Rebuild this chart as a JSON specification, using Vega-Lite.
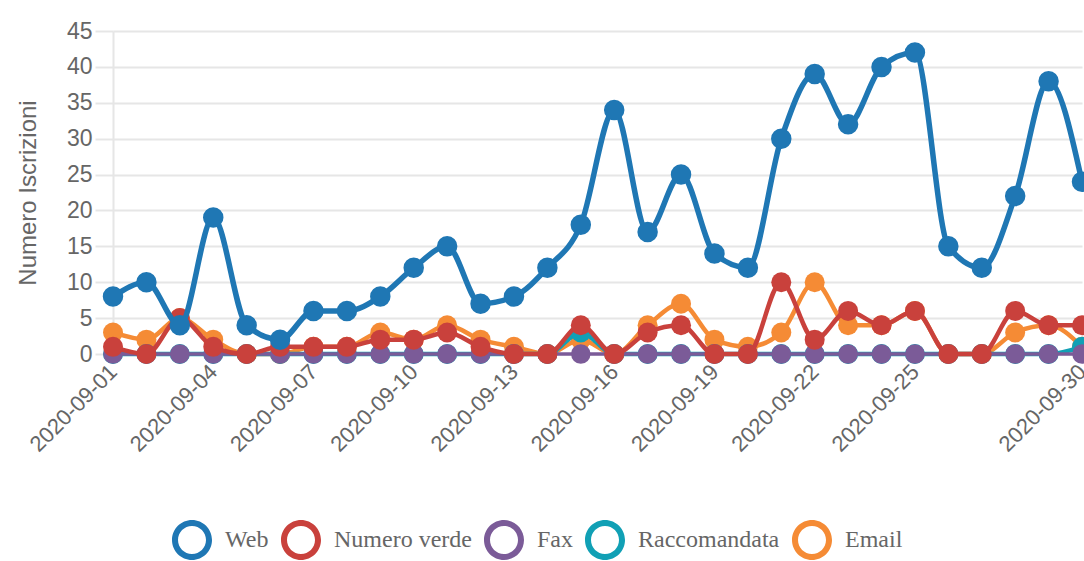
{
  "$schema": "https://vega.github.io/schema/vega-lite/v6.json",
  "width": 969,
  "height": 323,
  "autosize": {"type": "none"},
  "padding": {"left": 113, "top": 31, "right": 2, "bottom": 207},
  "background": "white",
  "config": {"view": {"stroke": null}, "font": "Liberation Sans"},
  "data": {
    "values": [
      {"giorno": "2020-09-01", "Web": 8, "Numero verde": 1, "Fax": 0, "Raccomandata": 0, "Email": 3},
      {"giorno": "2020-09-02", "Web": 10, "Numero verde": 0, "Fax": 0, "Raccomandata": 0, "Email": 2},
      {"giorno": "2020-09-03", "Web": 4, "Numero verde": 5, "Fax": 0, "Raccomandata": 0, "Email": 5},
      {"giorno": "2020-09-04", "Web": 19, "Numero verde": 1, "Fax": 0, "Raccomandata": 0, "Email": 2},
      {"giorno": "2020-09-05", "Web": 4, "Numero verde": 0, "Fax": 0, "Raccomandata": 0, "Email": 0},
      {"giorno": "2020-09-06", "Web": 2, "Numero verde": 1, "Fax": 0, "Raccomandata": 0, "Email": 0},
      {"giorno": "2020-09-07", "Web": 6, "Numero verde": 1, "Fax": 0, "Raccomandata": 0, "Email": 1},
      {"giorno": "2020-09-08", "Web": 6, "Numero verde": 1, "Fax": 0, "Raccomandata": 0, "Email": 1},
      {"giorno": "2020-09-09", "Web": 8, "Numero verde": 2, "Fax": 0, "Raccomandata": 0, "Email": 3},
      {"giorno": "2020-09-10", "Web": 12, "Numero verde": 2, "Fax": 0, "Raccomandata": 0, "Email": 2},
      {"giorno": "2020-09-11", "Web": 15, "Numero verde": 3, "Fax": 0, "Raccomandata": 0, "Email": 4},
      {"giorno": "2020-09-12", "Web": 7, "Numero verde": 1, "Fax": 0, "Raccomandata": 0, "Email": 2},
      {"giorno": "2020-09-13", "Web": 8, "Numero verde": 0, "Fax": 0, "Raccomandata": 0, "Email": 1},
      {"giorno": "2020-09-14", "Web": 12, "Numero verde": 0, "Fax": 0, "Raccomandata": 0, "Email": 0},
      {"giorno": "2020-09-15", "Web": 18, "Numero verde": 4, "Fax": 0, "Raccomandata": 3, "Email": 2},
      {"giorno": "2020-09-16", "Web": 34, "Numero verde": 0, "Fax": 0, "Raccomandata": 0, "Email": 0},
      {"giorno": "2020-09-17", "Web": 17, "Numero verde": 3, "Fax": 0, "Raccomandata": 0, "Email": 4},
      {"giorno": "2020-09-18", "Web": 25, "Numero verde": 4, "Fax": 0, "Raccomandata": 0, "Email": 7},
      {"giorno": "2020-09-19", "Web": 14, "Numero verde": 0, "Fax": 0, "Raccomandata": 0, "Email": 2},
      {"giorno": "2020-09-20", "Web": 12, "Numero verde": 0, "Fax": 0, "Raccomandata": 0, "Email": 1},
      {"giorno": "2020-09-21", "Web": 30, "Numero verde": 10, "Fax": 0, "Raccomandata": 0, "Email": 3},
      {"giorno": "2020-09-22", "Web": 39, "Numero verde": 2, "Fax": 0, "Raccomandata": 0, "Email": 10},
      {"giorno": "2020-09-23", "Web": 32, "Numero verde": 6, "Fax": 0, "Raccomandata": 0, "Email": 4},
      {"giorno": "2020-09-24", "Web": 40, "Numero verde": 4, "Fax": 0, "Raccomandata": 0, "Email": 4},
      {"giorno": "2020-09-25", "Web": 42, "Numero verde": 6, "Fax": 0, "Raccomandata": 0, "Email": 6},
      {"giorno": "2020-09-26", "Web": 15, "Numero verde": 0, "Fax": 0, "Raccomandata": 0, "Email": 0},
      {"giorno": "2020-09-27", "Web": 12, "Numero verde": 0, "Fax": 0, "Raccomandata": 0, "Email": 0},
      {"giorno": "2020-09-28", "Web": 22, "Numero verde": 6, "Fax": 0, "Raccomandata": 0, "Email": 3},
      {"giorno": "2020-09-29", "Web": 38, "Numero verde": 4, "Fax": 0, "Raccomandata": 0, "Email": 4},
      {"giorno": "2020-09-30", "Web": 24, "Numero verde": 4, "Fax": 0, "Raccomandata": 1, "Email": 1}
    ]
  },
  "transform": [
    {"fold": ["Web", "Numero verde", "Fax", "Raccomandata", "Email"], "as": ["serie", "valore"]}
  ],
  "encoding": {
    "x": {
      "field": "giorno",
      "type": "ordinal",
      "scale": {"type": "point", "padding": 0},
      "axis": {
        "title": null,
        "values": ["2020-09-01", "2020-09-04", "2020-09-07", "2020-09-10", "2020-09-13", "2020-09-16", "2020-09-19", "2020-09-22", "2020-09-25", "2020-09-30"],
        "labelAngle": -45,
        "labelAlign": "right",
        "labelBaseline": "middle",
        "labelFontSize": 22,
        "labelColor": "#666666",
        "labelFont": "Liberation Sans",
        "labelPadding": 14,
        "labelOverlap": false,
        "labelBound": false,
        "ticks": false,
        "domain": false,
        "grid": false
      }
    },
    "y": {
      "field": "valore",
      "type": "quantitative",
      "scale": {"domain": [0, 45], "nice": false},
      "axis": {
        "title": "Numero Iscrizioni",
        "values": [0, 5, 10, 15, 20, 25, 30, 35, 40, 45],
        "labelFontSize": 23,
        "labelColor": "#666666",
        "labelFont": "Liberation Sans",
        "labelPadding": 3,
        "tickSize": 18,
        "tickColor": "#e6e6e6",
        "tickWidth": 2,
        "gridColor": "#e6e6e6",
        "gridWidth": 2,
        "domainColor": "#e6e6e6",
        "domainWidth": 2,
        "titleFont": "Liberation Sans",
        "titleFontSize": 24,
        "titleFontWeight": "normal",
        "titleColor": "#666666",
        "titlePadding": 26
      }
    }
  },
  "layer": [
    {
      "transform": [{"filter": "datum.serie === 'Email'"}],
      "mark": {"type": "line", "interpolate": "monotone", "strokeWidth": 4.5},
      "encoding": {
        "stroke": {
          "field": "serie", "type": "nominal",
          "scale": {"domain": ["Web", "Numero verde", "Fax", "Raccomandata", "Email"], "range": ["#1f77b4", "#c9413c", "#7b5b98", "#11a0b5", "#f58b35"]},
          "legend": {
            "title": null,
            "orient": "none",
            "legendX": 59,
            "legendY": 489,
            "direction": "horizontal",
            "labelFont": "Liberation Serif",
            "labelFontSize": 24,
            "labelColor": "#666666",
            "symbolType": "M1,0A1,1,0,1,1,-1,0A1,1,0,1,1,1,0ZM0.7,0A0.7,0.7,0,1,0,-0.7,0A0.7,0.7,0,1,0,0.7,0Z",
            "symbolSize": 1600,
            "symbolStrokeWidth": 0,
            "symbolOpacity": 1,
            "labelOffset": 13,
            "columnPadding": 12
          }
        }
      }
    },
    {
      "transform": [{"filter": "datum.serie === 'Email'"}],
      "mark": {"type": "point", "filled": true, "size": 400, "opacity": 1, "strokeWidth": 0},
      "encoding": {
        "fill": {"field": "serie", "type": "nominal", "scale": {"domain": ["Web", "Numero verde", "Fax", "Raccomandata", "Email"], "range": ["#1f77b4", "#c9413c", "#7b5b98", "#11a0b5", "#f58b35"]}, "legend": null}
      }
    },
    {
      "transform": [{"filter": "datum.serie === 'Raccomandata'"}],
      "mark": {"type": "line", "interpolate": "monotone", "strokeWidth": 4.5},
      "encoding": {"stroke": {"field": "serie", "type": "nominal"}}
    },
    {
      "transform": [{"filter": "datum.serie === 'Raccomandata'"}],
      "mark": {"type": "point", "filled": true, "size": 400, "opacity": 1, "strokeWidth": 0},
      "encoding": {"fill": {"field": "serie", "type": "nominal", "legend": null}}
    },
    {
      "transform": [{"filter": "datum.serie === 'Fax'"}],
      "mark": {"type": "line", "interpolate": "monotone", "strokeWidth": 3.5},
      "encoding": {"stroke": {"field": "serie", "type": "nominal"}}
    },
    {
      "transform": [{"filter": "datum.serie === 'Fax'"}],
      "mark": {"type": "point", "filled": true, "size": 380, "opacity": 1, "strokeWidth": 0},
      "encoding": {"fill": {"field": "serie", "type": "nominal", "legend": null}}
    },
    {
      "transform": [{"filter": "datum.serie === 'Numero verde'"}],
      "mark": {"type": "line", "interpolate": "monotone", "strokeWidth": 4.5},
      "encoding": {"stroke": {"field": "serie", "type": "nominal"}}
    },
    {
      "transform": [{"filter": "datum.serie === 'Numero verde'"}],
      "mark": {"type": "point", "filled": true, "size": 400, "opacity": 1, "strokeWidth": 0},
      "encoding": {"fill": {"field": "serie", "type": "nominal", "legend": null}}
    },
    {
      "transform": [{"filter": "datum.serie === 'Web'"}],
      "mark": {"type": "line", "interpolate": "monotone", "strokeWidth": 5.5},
      "encoding": {"stroke": {"field": "serie", "type": "nominal"}}
    },
    {
      "transform": [{"filter": "datum.serie === 'Web'"}],
      "mark": {"type": "point", "filled": true, "size": 420, "opacity": 1, "strokeWidth": 0},
      "encoding": {"fill": {"field": "serie", "type": "nominal", "legend": null}}
    }
  ]
}
